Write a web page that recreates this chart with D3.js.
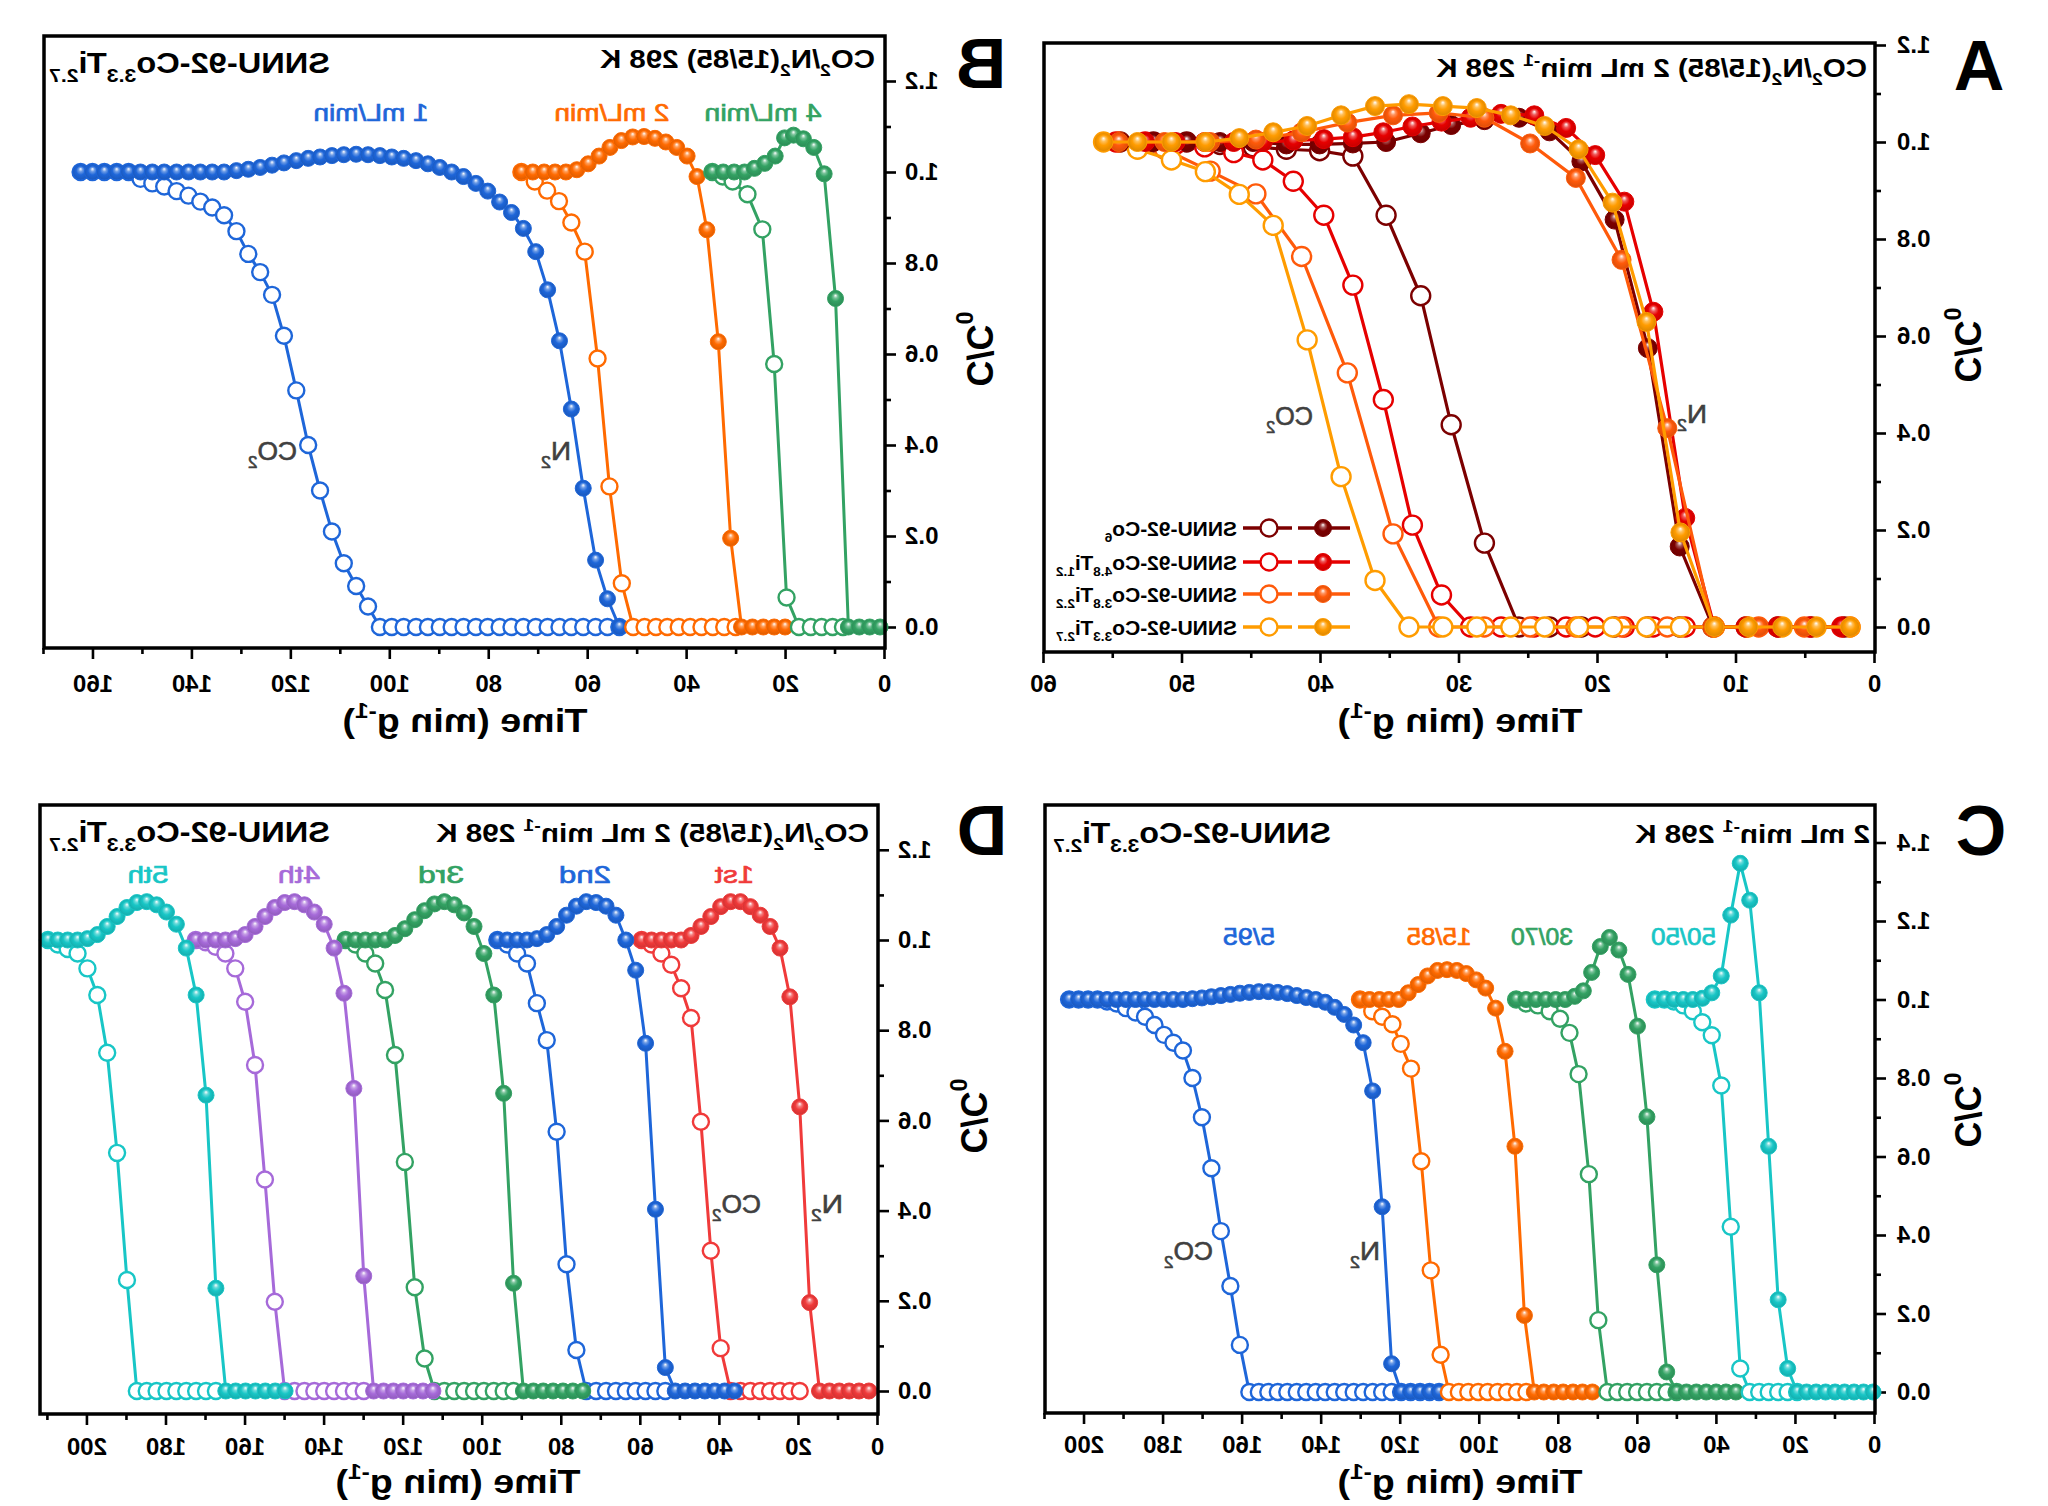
<!DOCTYPE html>
<html><head><meta charset="utf-8">
<script src="https://cdn.jsdelivr.net/npm/d3@7"></script>
<style>body{margin:0;background:#fff}svg{display:block}</style>
</head><body>
<svg id="chart" width="2048" height="1506"></svg>
<script>
// ================= DATA =================
// ticks
const aXMajor=[0,10,20,30,40,50,60], aXMinor=[5,15,25,35,45,55];
const bXMajor=[0,20,40,60,80,100,120,140,160], bXMinor=[10,30,50,70,90,110,130,150,170];
const cdXMajor=[0,20,40,60,80,100,120,140,160,180,200], cdXMinor=[10,30,50,70,90,110,130,150,170,190,210];
const yMajor12=[0,0.2,0.4,0.6,0.8,1.0,1.2], yMinor12=[0.1,0.3,0.5,0.7,0.9,1.1];
const yMajor14=[0,0.2,0.4,0.6,0.8,1.0,1.2,1.4], yMinor14=[0.1,0.3,0.5,0.7,0.9,1.1,1.3];

// texts
const xTitle='Time (min g^{-1})', yTitle='C/C_{0}';
const sampleName='SNNU-92-Co_{3.3}Ti_{2.7}';
const aTitle='CO_{2}/N_{2}(15/85) 2 mL min^{-1} 298 K';
const bTitle='CO_{2}/N_{2}(15/85) 298 K';
const cTitle='2 mL min^{-1} 298 K';
const dTitle='CO_{2}/N_{2}(15/85) 2 mL min^{-1} 298 K';
const aLegendNames=['SNNU-92-Co_{6}','SNNU-92-Co_{4.8}Ti_{1.2}','SNNU-92-Co_{3.8}Ti_{2.2}','SNNU-92-Co_{3.3}Ti_{2.7}'];
const bRateNames=['1 mL/min','2 mL/min','4 mL/min'];
const cRatioNames=['5/95','15/85','30/70','50/50'];
const dCycleNames=['1st','2nd','3rd','4th','5th'];
const gasNames=['CO_{2}','N_{2}'];

// ---- Panel A (x: time, N2 filled / CO2 open) ----
const aCo6X=[54.5,52.1,49.7,47.3,44.9,42.5,40.1,37.7,35.3,32.8,30.6,28.2,25.7,23.5,21.2,18.8,16.4,14.1,11.7,9.3,7.0,4.6,2.2];
const aCo6N2=[1,1,1,1,1,0.995,0.995,0.997,1.0,1.018,1.035,1.045,1.05,1.022,0.96,0.84,0.575,0.166,0,0,0,0,0];
const aCo6CO2=[1,1,1,0.995,0.99,0.985,0.982,0.971,0.849,0.683,0.417,0.173,0,0,0,0,0,0,0,0,0,0,0];
const aCo48X=[54.8,52.7,50.5,48.4,46.3,44.2,42.0,39.8,37.7,35.5,33.4,31.3,29.2,27.0,24.6,22.3,20.2,18.1,16.0,13.7,11.6,9.3,7.0,4.7,2.4];
const aCo48N2=[1,1,1,1,1,1,1.003,1.006,1.01,1.02,1.032,1.042,1.05,1.058,1.055,1.029,0.973,0.877,0.65,0.225,0,0,0,0,0];
const aCo48CO2=[1,1,0.995,0.99,0.978,0.963,0.919,0.849,0.705,0.469,0.21,0.066,0,0,0,0,0,0,0,0,0,0,0,0,0];
const aCo38X=[54.6,51.3,48.0,44.7,41.4,38.1,34.8,31.5,28.2,24.9,21.6,18.3,15.0,11.7,8.4,5.1,1.8];
const aCo38N2=[1,1,1,1.005,1.02,1.04,1.055,1.06,1.05,0.997,0.926,0.757,0.41,0,0,0,0];
const aCo38CO2=[1,0.985,0.94,0.893,0.764,0.524,0.192,0,0,0,0,0,0,0,0,0,0];
const aCo33X=[55.7,53.25,50.8,48.35,45.9,43.45,41.0,38.55,36.1,33.65,31.2,28.75,26.3,23.85,21.4,18.95,16.5,14.05,11.6,9.15,6.7,4.25,1.8];
const aCo33N2=[1,1,1,1,1.008,1.02,1.033,1.055,1.074,1.078,1.074,1.07,1.055,1.033,0.985,0.875,0.629,0.195,0,0,0,0,0];
const aCo33CO2=[1,0.985,0.963,0.939,0.892,0.828,0.592,0.31,0.096,0,0,0,0,0,0,0,0,0,0,0,0,0,0];

// ---- Panel B (flow rates) ----
const bRate1X=[162.6,160.2,157.8,155.3,152.9,150.5,148.1,145.7,143.2,140.8,138.4,136.0,133.6,131.1,128.7,126.3,123.9,121.5,119.0,116.6,114.2,111.8,109.4,106.9,104.5,102.1,99.7,97.3,94.8,92.4,90.0,87.6,85.2,82.7,80.3,77.9,75.5,73.1,70.6,68.2,65.8,63.4,61.0,58.5,56.1,53.7];
const bRate1N2=[1,1,1,1,1,1,1,1,1,1,1,1,1,1.003,1.006,1.01,1.015,1.02,1.025,1.03,1.033,1.036,1.038,1.039,1.038,1.036,1.033,1.03,1.025,1.018,1.01,1.0,0.99,0.975,0.958,0.934,0.911,0.876,0.825,0.741,0.629,0.479,0.305,0.147,0.062,0];
const bRate1CO2=[1,1,1,1,1,0.985,0.975,0.968,0.958,0.948,0.935,0.922,0.905,0.87,0.82,0.78,0.73,0.64,0.52,0.40,0.30,0.21,0.14,0.09,0.045,0,0,0,0,0,0,0,0,0,0,0,0,0,0,0,0,0,0,0,0,0];
const bRate2X=[73.5,71.2,68.9,66.7,64.5,62.3,60.0,57.8,55.6,53.3,51.0,48.7,46.5,44.3,42.1,40.0,38.0,36.0,33.7,31.2,29.0,26.8,24.6,22.4,20.2];
const bRate2N2=[1,1,1,1,1,1.005,1.018,1.035,1.054,1.069,1.077,1.078,1.074,1.066,1.054,1.035,0.99,0.873,0.627,0.195,0,0,0,0,0];
const bRate2OpenX=[73.5,70.8,68.3,65.9,63.4,60.7,58.1,55.7,53.2,50.9,48.6,46.3,44.0,41.7,39.4,37.1,34.8,32.5,30.2];
const bRate2CO2=[1,0.979,0.959,0.936,0.889,0.825,0.59,0.309,0.096,0,0,0,0,0,0,0,0,0,0];
const bRate4X=[34.9,32.7,30.5,28.4,26.4,24.3,22.2,20.3,18.5,16.5,14.4,12.3,10.0,7.4,5.2,3.1,1.0];
const bRate4N2=[1,1,1,1,1.008,1.019,1.035,1.075,1.081,1.073,1.054,0.996,0.722,0,0,0,0];
const bRate4OpenX=[34.9,32.8,30.8,27.8,24.8,22.4,19.9,17.4,15.0,12.8,10.6,8.5];
const bRate4CO2=[1,0.99,0.979,0.951,0.874,0.578,0.065,0,0,0,0,0];

// ---- Panel C (CO2/N2 ratios) ----
const c595X=[203.9,201.5,199.1,196.7,194.3,191.9,189.5,187.1,184.7,182.3,179.9,177.5,175.1,172.7,170.3,167.9,165.5,163.1,160.7,158.3,155.9,153.5,151.1,148.7,146.3,143.9,141.5,139.1,136.7,134.3,131.9,129.5,127.1,124.7,122.3,119.9,117.5,115.1,112.7,110.3];
const c595N2=[1,1,1,1,1,1,1,1,1,1,1,1,1,1.002,1.004,1.007,1.01,1.013,1.016,1.018,1.02,1.02,1.018,1.015,1.01,1.005,1.0,0.993,0.98,0.962,0.935,0.89,0.767,0.472,0.072,0,0,0,0,0];
const c595CO2=[1,1,1,1,0.995,0.99,0.978,0.967,0.956,0.935,0.91,0.89,0.87,0.80,0.70,0.57,0.41,0.27,0.12,0,0,0,0,0,0,0,0,0,0,0,0,0,0,0,0,0,0,0,0,0];
const c1585X=[130.3,127.9,125.4,123.0,120.5,118.1,115.6,113.2,110.7,108.3,105.8,103.4,100.9,98.5,96.0,93.6,91.1,88.7,86.2,83.8,81.3,78.9,76.4,74.0,71.5];
const c1585N2=[1,1,1,1,1,1.017,1.038,1.06,1.074,1.076,1.074,1.066,1.05,1.029,0.978,0.868,0.626,0.195,0,0,0,0,0,0,0];
const c1585OpenX=[130.3,127.2,124.7,122.1,120.0,117.4,114.8,112.4,109.9,107.8,105.3,102.9,100.4,98.0,95.5,93.1,90.6,88.2];
const c1585CO2=[1,0.97,0.956,0.937,0.887,0.824,0.588,0.31,0.095,0,0,0,0,0,0,0,0,0];
const c3070X=[90.8,88.3,85.8,83.3,80.8,78.4,76.0,73.8,71.7,69.5,67.2,64.8,62.5,60.1,57.7,55.2,52.7,50.2,47.7,45.2,42.7,40.2,37.7,35.2];
const c3070N2=[1,1,1,1,1,1,1.008,1.022,1.069,1.135,1.158,1.126,1.064,0.932,0.701,0.324,0.051,0,0,0,0,0,0,0];
const c3070OpenX=[90.8,88.3,85.3,82.3,79.7,77.3,75.0,72.4,70.0,67.7,65.2,62.7,60.2,57.7,55.2,52.7,50.2];
const c3070CO2=[1,0.99,0.985,0.97,0.951,0.915,0.81,0.555,0.183,0,0,0,0,0,0,0,0];
const c5050X=[55.7,53.3,50.9,48.5,46.1,43.7,41.3,38.9,36.5,34.1,31.7,29.3,26.9,24.5,22.1,19.7,17.3,14.9,12.5,10.1,7.7,5.3,2.9,0.5];
const c5050N2=[1,1,1,1,1,1.003,1.017,1.06,1.215,1.347,1.253,1.017,0.626,0.235,0.06,0,0,0,0,0,0,0,0,0];
const c5050CO2=[1,1,0.995,0.985,0.97,0.942,0.909,0.781,0.421,0.06,0,0,0,0,0,0];

// ---- Panel D (cycles) ----
const d1X=[59.8,57.3,54.8,52.3,49.8,47.3,44.8,42.3,39.8,37.3,34.8,32.3,29.8,27.3,24.8,22.3,19.8,17.3,14.8,12.3,9.8,7.3,4.8,2.3];
const d1N2=[1,1,1,1,1,1.01,1.03,1.052,1.074,1.085,1.085,1.074,1.055,1.03,0.982,0.874,0.63,0.196,0,0,0,0,0,0];
const d1CO2=[1,0.99,0.97,0.945,0.893,0.827,0.597,0.311,0.095,0,0,0,0,0,0,0,0];
const d2X=[96.3,93.8,91.3,88.8,86.3,83.8,81.3,78.8,76.3,73.8,71.3,68.8,66.3,63.8,61.3,58.8,56.3,53.8,51.3,48.8,46.3,43.8,41.3,38.8,36.3];
const d2N2=[1,1,1,1,1.003,1.012,1.03,1.055,1.075,1.085,1.083,1.075,1.055,1.0,0.933,0.771,0.403,0.052,0,0,0,0,0,0,0];
const d2CO2=[1,0.99,0.97,0.948,0.86,0.778,0.575,0.281,0.091,0,0,0,0,0,0,0,0,0];
const d3X=[134.7,132.2,129.7,127.2,124.7,122.2,119.7,117.2,114.7,112.2,109.7,107.2,104.7,102.2,99.7,97.2,94.7,92.2,89.7,87.2,84.7,82.2,79.7,77.2,74.7];
const d3N2=[1,1,1,1,1,1.01,1.025,1.045,1.065,1.08,1.085,1.078,1.06,1.03,0.97,0.878,0.66,0.239,0,0,0,0,0,0,0];
const d3CO2=[1,0.99,0.97,0.948,0.889,0.745,0.508,0.23,0.072,0,0,0,0,0,0,0,0,0];
const d4X=[172.6,170.1,167.6,165.1,162.6,160.1,157.6,155.1,152.6,150.1,147.6,145.1,142.6,140.1,137.6,135.1,132.6,130.1,127.6,125.1,122.6,120.1,117.6,115.1,112.6];
const d4N2=[1,1,1,1,1.003,1.012,1.03,1.052,1.072,1.083,1.085,1.078,1.062,1.035,0.982,0.882,0.671,0.255,0,0,0,0,0,0,0];
const d4CO2=[1,0.995,0.985,0.97,0.937,0.863,0.723,0.469,0.198,0,0,0,0,0,0,0,0,0];
const d5X=[210.0,207.5,205.0,202.5,200.0,197.5,195.0,192.5,190.0,187.5,185.0,182.5,180.0,177.5,175.0,172.5,170.0,167.5,165.0,162.5,160.0,157.5,155.0,152.5,150.0];
const d5N2=[1,1,1,1,1.003,1.012,1.03,1.052,1.072,1.083,1.085,1.078,1.062,1.035,0.982,0.878,0.656,0.228,0,0,0,0,0,0,0];
const d5CO2=[1,0.99,0.98,0.97,0.937,0.878,0.75,0.528,0.246,0,0,0,0,0,0,0,0,0];

// ================= DRAWING =================
const W=2048;
const FONT='"Liberation Sans", Arial, Helvetica, sans-serif';
const C={blue:'#1e66d9',orange:'#ff6a00',green:'#33a263',cyan:'#18c6c6',purple:'#a66ad9',red:'#f03a3a',
  darkred:'#7c0000',red2:'#e60000',orangered:'#ff5a0a',amber:'#ff9c00',grey:'#404040'};

const svg=d3.select('#chart');
const defs=svg.append('defs');
svg.append('rect').attr('width',2048).attr('height',1506).attr('fill','#fff');
// the whole figure is mirrored left-right, as in the reference
const root=svg.append('g').attr('transform',`translate(${W},0) scale(-1,1)`);

const gradCache={};
function grad(color){
  if(gradCache[color]) return gradCache[color];
  const id='rg'+Object.keys(gradCache).length;
  const rg=defs.append('radialGradient').attr('id',id).attr('cx','50%').attr('cy','50%').attr('r','50%').attr('fx','50%').attr('fy','30%');
  rg.append('stop').attr('offset','0%').attr('stop-color','#ffffff');
  rg.append('stop').attr('offset','26%').attr('stop-color',d3.interpolateRgb(color,'#ffffff')(0.35));
  rg.append('stop').attr('offset','55%').attr('stop-color',color);
  rg.append('stop').attr('offset','100%').attr('stop-color',d3.color(color).darker(0.4).formatHex());
  return gradCache[color]=`url(#${id})`;
}

function rich(t,str,fs){
  const parts=str.split(/(_\{[^}]*\}|\^\{[^}]*\})/).filter(s=>s.length);
  let shift=0;
  parts.forEach(p=>{
    let txt=p,target=0,small=false;
    if(p.startsWith('_{')){txt=p.slice(2,-1);target=0.3;small=true;}
    else if(p.startsWith('^{')){txt=p.slice(2,-1);target=-0.42;small=true;}
    const ts=t.append('tspan').text(txt);
    if(small) ts.attr('font-size',fs*0.65);
    const dy=(target-shift)*fs;
    if(Math.abs(dy)>1e-6) ts.attr('dy',dy);
    shift=target;
  });
}
function addText(g,str,x,y,o){
  const t=g.append('text').attr('font-family',FONT).attr('font-size',o.size)
    .attr('font-weight',o.weight||'normal').attr('fill',o.fill||'#000').attr('text-anchor',o.anchor||'start');
  if(o.rotate){t.attr('transform',`translate(${x},${y}) rotate(${o.rotate})`);}
  else{t.attr('x',x).attr('y',y);}
  if(o.thick){t.attr('stroke',o.fill||'#000').attr('stroke-width',o.thick).attr('paint-order','stroke');}
  rich(t,str,o.size);
  if(o.len) t.attr('textLength',o.len).attr('lengthAdjust','spacingAndGlyphs');
  return t;
}

function drawSeries(g,x,y,xs,ys,color,filled,r,lw){
  const pts=ys.map((v,i)=>[xs[i],v]);
  g.append('path').datum(pts).attr('d',d3.line().x(d=>x(d[0])).y(d=>y(d[1])))
    .attr('fill','none').attr('stroke',color).attr('stroke-width',lw).attr('stroke-linejoin','round');
  g.append('g').selectAll('circle').data(pts).join('circle')
    .attr('cx',d=>x(d[0])).attr('cy',d=>y(d[1])).attr('r',r)
    .attr('fill',filled?grad(color):'#ffffff').attr('stroke',color).attr('stroke-width',filled?1:2.4);
}

function makePanel(p){
  const g=root.append('g');
  const x=d3.scaleLinear().domain(p.xDomain).range([p.left,p.right]);
  const y=d3.scaleLinear().domain([(p.y0-p.bottom)/p.k,(p.y0-p.top)/p.k]).range([p.bottom,p.top]);
  const ax=g.append('g');
  const styleAxis=sel=>{
    sel.select('.domain').remove();
    sel.selectAll('line').attr('stroke','#000').attr('stroke-width',2.6);
    sel.selectAll('text').attr('font-family',FONT).attr('font-size',24).attr('font-weight','bold').attr('fill','#000');
  };
  ax.append('g').attr('transform',`translate(0,${p.bottom})`)
    .call(d3.axisBottom(x).tickValues(p.xMajor).tickSize(11).tickPadding(p.xPad).tickFormat(d3.format('d'))).call(styleAxis);
  ax.append('g').attr('transform',`translate(0,${p.bottom})`)
    .call(d3.axisBottom(x).tickValues(p.xMinor).tickSize(6).tickFormat('')).call(styleAxis);
  ax.append('g').attr('transform',`translate(${p.left},0)`)
    .call(d3.axisLeft(y).tickValues(p.yMajor).tickSize(11).tickPadding(p.yPad).tickFormat(d3.format('.1f'))).call(styleAxis);
  ax.append('g').attr('transform',`translate(${p.left},0)`)
    .call(d3.axisLeft(y).tickValues(p.yMinor).tickSize(6).tickFormat('')).call(styleAxis);
  const data=g.append('g');
  p.series.forEach(s=>drawSeries(data,x,y,s.x,s.y,s.color,s.filled,p.r,p.lw));
  g.append('rect').attr('x',p.left).attr('y',p.top).attr('width',p.right-p.left).attr('height',p.bottom-p.top)
    .attr('fill','none').attr('stroke','#000').attr('stroke-width',3.5);
  return {g,x,y};
}

// ---------- Panel A ----------
const aSeriesDef=[[aCo6X,aCo6N2,aCo6CO2,C.darkred],[aCo48X,aCo48N2,aCo48CO2,C.red2],[aCo38X,aCo38N2,aCo38CO2,C.orangered],[aCo33X,aCo33N2,aCo33CO2,C.amber]];
const pA=makePanel({left:173,right:1004,top:43,bottom:652,y0:627,k:485,xDomain:[0,60],
  xMajor:aXMajor,xMinor:aXMinor,yMajor:yMajor12,yMinor:yMinor12,xPad:12,yPad:11,r:9.5,lw:3.2,
  series:[...aSeriesDef.map(s=>({x:s[0],y:s[2],color:s[3],filled:false})),...aSeriesDef.map(s=>({x:s[0],y:s[1],color:s[3],filled:true}))]});
addText(pA.g,'A',69,90,{size:70,weight:'bold',anchor:'middle'});
addText(pA.g,aTitle,181,77,{size:26,weight:'bold',len:431});
addText(pA.g,yTitle,93,345,{size:36,weight:'bold',anchor:'middle',rotate:-90});
addText(pA.g,xTitle,588,732,{size:33,weight:'bold',anchor:'middle',len:245});
addText(pA.g,gasNames[0],735,425,{size:25,fill:C.grey,len:47,thick:0.6});
addText(pA.g,gasNames[1],341,423,{size:25,fill:C.grey,len:30,thick:0.6});
// legend
const legRowY=[528,562,594,627];
aSeriesDef.forEach((s,i)=>{
  const gy=legRowY[i], lg=pA.g.append('g');
  lg.append('line').attr('x1',698).attr('x2',750).attr('y1',gy).attr('y2',gy).attr('stroke',s[3]).attr('stroke-width',3.5);
  lg.append('line').attr('x1',756).attr('x2',805).attr('y1',gy).attr('y2',gy).attr('stroke',s[3]).attr('stroke-width',3.5);
  lg.append('circle').attr('cx',725).attr('cy',gy).attr('r',8.5).attr('fill',grad(s[3])).attr('stroke',s[3]);
  lg.append('circle').attr('cx',779).attr('cy',gy).attr('r',8.5).attr('fill','#fff').attr('stroke',s[3]).attr('stroke-width',2.4);
  addText(lg,aLegendNames[i],811,gy+7.5,{size:21,weight:'bold'});
});

// ---------- Panel B ----------
const pB=makePanel({left:1163,right:2004,top:36,bottom:648,y0:627,k:455,xDomain:[0,170],
  xMajor:bXMajor,xMinor:bXMinor,yMajor:yMajor12,yMinor:yMinor12,xPad:16,yPad:9,r:8,lw:3,
  series:[
    {x:bRate1X,y:bRate1CO2,color:C.blue,filled:false},{x:bRate1X,y:bRate1N2,color:C.blue,filled:true},
    {x:bRate2OpenX,y:bRate2CO2,color:C.orange,filled:false},{x:bRate2X,y:bRate2N2,color:C.orange,filled:true},
    {x:bRate4OpenX,y:bRate4CO2,color:C.green,filled:false},{x:bRate4X,y:bRate4N2,color:C.green,filled:true}]});
addText(pB.g,'B',1067,88,{size:70,weight:'bold',anchor:'middle'});
addText(pB.g,bTitle,1173,68,{size:25,weight:'bold',len:275});
addText(pB.g,sampleName,1718,73,{size:29,weight:'bold',len:281});
addText(pB.g,yTitle,1081,349,{size:36,weight:'bold',anchor:'middle',rotate:-90});
addText(pB.g,xTitle,1583,732,{size:33,weight:'bold',anchor:'middle',len:245});
[[1677,C.blue,115],[1436,C.orange,115],[1285,C.green,117]].forEach((d,i)=>addText(pB.g,bRateNames[i],d[0],121,{size:24,fill:d[1],anchor:'middle',len:d[2],thick:0.7}));
addText(pB.g,gasNames[0],1751,460,{size:25,fill:C.grey,len:49,thick:0.6});
addText(pB.g,gasNames[1],1477,460,{size:25,fill:C.grey,len:30,thick:0.6});

// ---------- Panel C ----------
const pC=makePanel({left:173,right:1003,top:805,bottom:1413,y0:1392,k:392.5,xDomain:[0,210],
  xMajor:cdXMajor,xMinor:cdXMinor,yMajor:yMajor14,yMinor:yMinor14,xPad:12,yPad:11,r:8,lw:3,
  series:[
    {x:c595X,y:c595CO2,color:C.blue,filled:false},{x:c595X,y:c595N2,color:C.blue,filled:true},
    {x:c1585OpenX,y:c1585CO2,color:C.orange,filled:false},{x:c1585X,y:c1585N2,color:C.orange,filled:true},
    {x:c3070OpenX,y:c3070CO2,color:C.green,filled:false},{x:c3070X,y:c3070N2,color:C.green,filled:true},
    {x:c5050X,y:c5050CO2,color:C.cyan,filled:false},{x:c5050X,y:c5050N2,color:C.cyan,filled:true}]});
addText(pC.g,'C',67,855,{size:70,weight:'bold',anchor:'middle'});
addText(pC.g,cTitle,178,843,{size:26,weight:'bold',len:235});
addText(pC.g,sampleName,717,843,{size:29,weight:'bold',len:278});
addText(pC.g,yTitle,93,1110,{size:36,weight:'bold',anchor:'middle',rotate:-90});
addText(pC.g,xTitle,588,1493,{size:33,weight:'bold',anchor:'middle',len:245});
[[799,C.blue,52],[609,C.orange,65],[506,C.green,62],[364.5,C.cyan,65]].forEach((d,i)=>addText(pC.g,cRatioNames[i],d[0],945,{size:24,fill:d[1],anchor:'middle',len:d[2],thick:0.7}));
addText(pC.g,gasNames[0],835,1260,{size:25,fill:C.grey,len:49,thick:0.6});
addText(pC.g,gasNames[1],668,1260,{size:25,fill:C.grey,len:30,thick:0.6});

// ---------- Panel D ----------
const dDef=[[d1X,d1N2,d1CO2,C.red],[d2X,d2N2,d2CO2,C.blue],[d3X,d3N2,d3CO2,C.green],[d4X,d4N2,d4CO2,C.purple],[d5X,d5N2,d5CO2,C.cyan]];
const dSeries=[];
dDef.forEach(s=>{dSeries.push({x:s[0],y:s[2],color:s[3],filled:false});dSeries.push({x:s[0],y:s[1],color:s[3],filled:true});});
const pD=makePanel({left:1170,right:2008,top:805,bottom:1414,y0:1391,k:451,xDomain:[0,212],
  xMajor:cdXMajor,xMinor:cdXMinor,yMajor:yMajor12,yMinor:yMinor12,xPad:13,yPad:9,r:8,lw:3,series:dSeries});
addText(pD.g,'D',1066,855,{size:70,weight:'bold',anchor:'middle'});
addText(pD.g,dTitle,1179,842,{size:26,weight:'bold',len:433});
addText(pD.g,sampleName,1718,842,{size:29,weight:'bold',len:281});
addText(pD.g,yTitle,1087,1116,{size:36,weight:'bold',anchor:'middle',rotate:-90});
addText(pD.g,xTitle,1590,1493,{size:33,weight:'bold',anchor:'middle',len:245});
[[1313.5,39],[1463,52],[1607,46],[1749,42],[1900,41]].forEach((d,i)=>addText(pD.g,dCycleNames[i],d[0],883,{size:24,fill:dDef[i][3],anchor:'middle',len:d[1],thick:0.7}));
addText(pD.g,gasNames[0],1287,1213,{size:25,fill:C.grey,len:49,thick:0.6});
addText(pD.g,gasNames[1],1205,1213,{size:25,fill:C.grey,len:32,thick:0.6});
</script>
</body></html>
